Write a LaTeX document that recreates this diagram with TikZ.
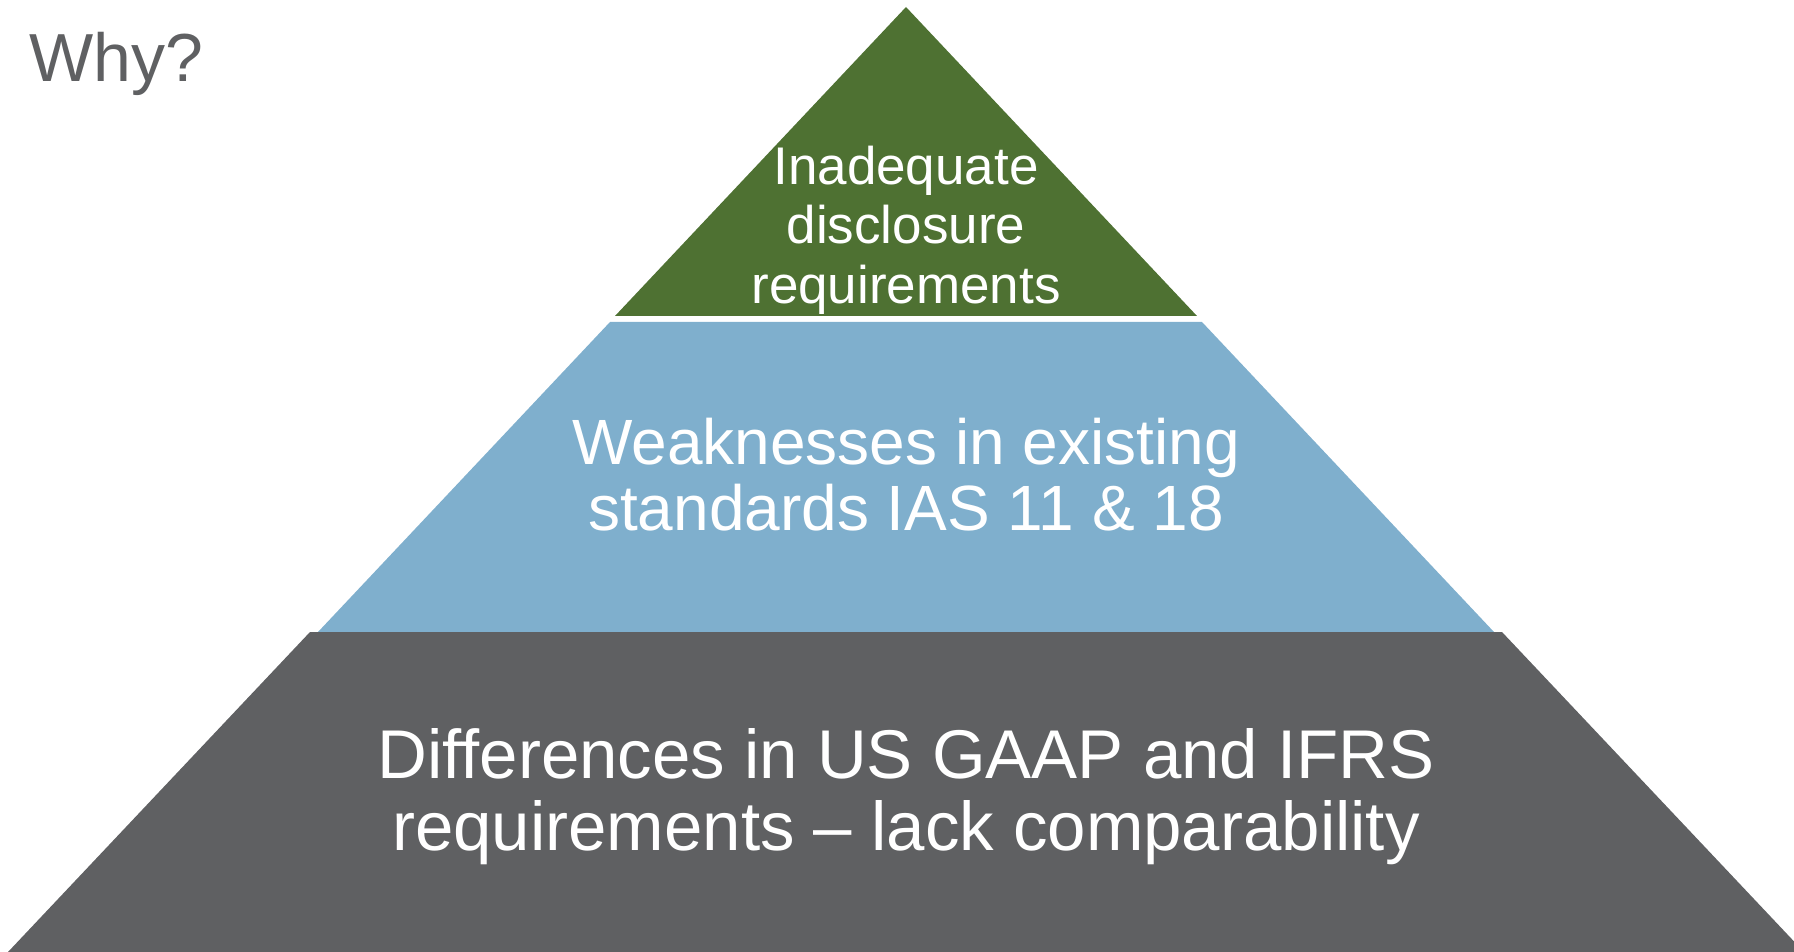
\documentclass[tikz,border=0pt]{standalone}
\usepackage{fontspec}
\setmainfont{Liberation Sans}
\definecolor{tiergreen}{HTML}{4E7132}
\definecolor{tierblue}{HTML}{7FAFCD}
\definecolor{tiergray}{HTML}{5F6062}
\definecolor{titlegray}{HTML}{5F6062}
\begin{document}
\begin{tikzpicture}[x=0.5pt,y=-0.5pt,
  tiertext/.style={text=white,inner sep=0pt,anchor=base},
  gtext/.style={tiertext,font=\fontsize{26.5}{30}\selectfont},
  btext/.style={tiertext,font=\fontsize{32}{34}\selectfont},
  ktext/.style={tiertext,font=\fontsize{34.5}{36}\selectfont}]
  \useasboundingbox (0,0) rectangle (1794,952);
  \clip (0,0) rectangle (1794,952);

  % three tiers of the pyramid
  \fill[tiergreen] (906,7) -- (1197,316) -- (615,316) -- cycle;
  \fill[tierblue] (610,322) -- (1202,322) -- (1494,632) -- (318,632) -- cycle;
  \fill[tiergray] (310,632) -- (1502,632) -- (1804,952) -- (8,952) -- cycle;

  % heading
  \node[anchor=base west,inner sep=0pt,text=titlegray,
        font=\fontsize{34}{36}\selectfont] (why) at (29,82) {Why?};

  % top tier
  \node[gtext] (g1) at (906,184.5) {Inadequate};
  \node[gtext] (g2) at (906,244) {disclosure};
  \node[gtext] (g3) at (906,303.5) {requirements};

  % middle tier
  \node[btext] (b1) at (906,464) {Weaknesses in existing};
  \node[btext] (b2) at (906,530) {standards IAS 11 \& 18};

  % bottom tier
  \node[ktext] (k1) at (906,778) {Differences in US GAAP and IFRS};
  \node[ktext] (k2) at (906,850) {requirements – lack comparability};
\end{tikzpicture}
\end{document}
